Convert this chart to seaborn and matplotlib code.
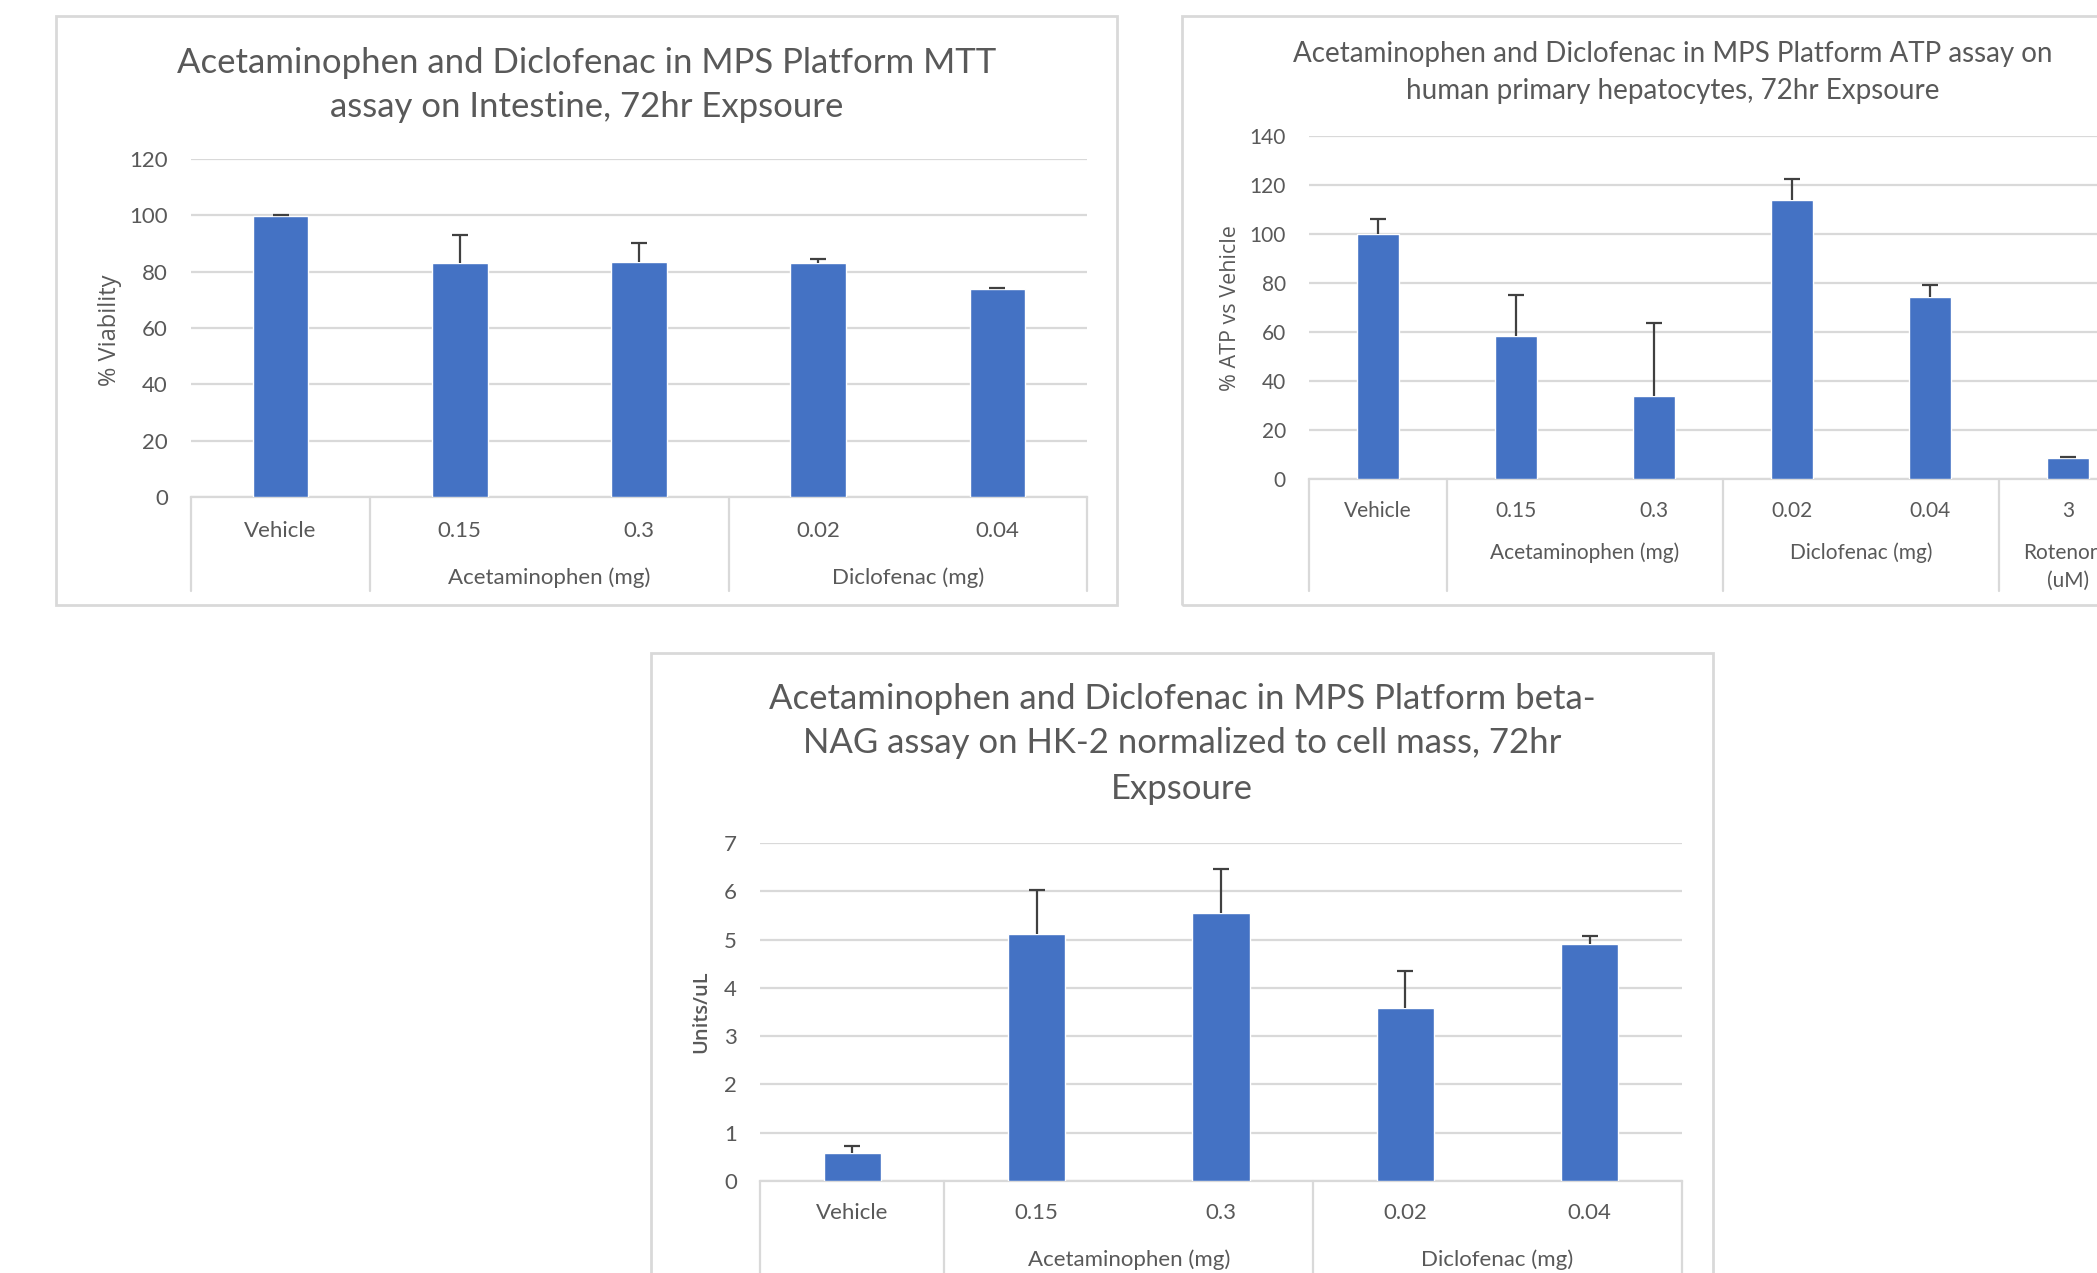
import numpy as np
import pandas as pd
import matplotlib
matplotlib.use("Agg")
import matplotlib.pyplot as plt
import matplotlib.transforms as mtransforms
from matplotlib.patches import Rectangle
import seaborn as sns

# ---------------- data ----------------
mtt_labels = ["Vehicle", "0.15", "0.3", "0.02", "0.04"]
mtt_values = [99.6, 82.9, 83.3, 82.9, 73.8]
mtt_err = [0.6, 10.1, 6.9, 1.5, 0.3]
mtt_groups = [("Acetaminophen (mg)", 1.5), ("Diclofenac (mg)", 3.5)]

atp_labels = ["Vehicle", "0.15", "0.3", "0.02", "0.04", "3"]
atp_values = [99.8, 58.2, 33.7, 113.8, 74.1, 8.4]
atp_err = [6.3, 17.1, 30.1, 8.8, 5.0, 0.4]
atp_groups = [("Acetaminophen (mg)", 1.5), ("Diclofenac (mg)", 3.5), ("Rotenone", 5.0)]
atp_group_second_line = [("(uM)", 5.0)]

nag_labels = ["Vehicle", "0.15", "0.3", "0.02", "0.04"]
nag_values = [0.57, 5.11, 5.56, 3.59, 4.90]
nag_err = [0.15, 0.91, 0.90, 0.76, 0.17]
nag_groups = [("Acetaminophen (mg)", 1.5), ("Diclofenac (mg)", 3.5)]

# ---------------- style ----------------
sns.set_theme(style="white")
NARROW = ["Liberation Sans Narrow", "Lato", "DejaVu Sans"]
plt.rcParams["font.family"] = NARROW
TXT = "#595959"
GRID = "#D9D9D9"
BAR = "#4472C4"

W, H = 2097, 1273
fig = plt.figure(figsize=(W / 100, H / 100), dpi=100)
fig.patch.set_facecolor("white")


def px_axes(x0, x1, ytop, ybot):
    return fig.add_axes([x0 / W, 1 - ybot / H, (x1 - x0) / W, (ybot - ytop) / H])


def box(x0, y0, x1, y1):
    fig.patches.append(Rectangle((x0 / W, 1 - y1 / H), (x1 - x0) / W, (y1 - y0) / H,
                                 transform=fig.transFigure, fill=False,
                                 edgecolor=GRID, lw=2.0, zorder=0))


def group_text(ax, items, offset_px, fs):
    trans = mtransforms.blended_transform_factory(ax.transData, ax.transAxes)
    for name, gx in items:
        ax.annotate(name, xy=(gx, 0), xycoords=trans, xytext=(0, -offset_px * 0.72),
                    textcoords="offset points", ha="center", va="center",
                    fontsize=fs, color=TXT)


def panel(ax, labels, values, err, ymax, ystep, groups, seps, sep_px, axh_px,
          tick_pad_px, group_px, tick_fs, ytick_fs):
    df = pd.DataFrame({"label": labels, "value": values})
    sns.barplot(data=df, x="label", y="value", order=labels, color=BAR,
                saturation=1, width=0.31, errorbar=None, ax=ax, zorder=3)
    x = np.arange(len(labels))
    v = np.asarray(values)
    e = np.asarray(err)
    ax.vlines(x, v, v + e, color="#404040", lw=1.6, zorder=4)
    ax.plot(x, v + e, ls="none", marker="_", ms=11, mew=1.6, color="#404040", zorder=4)
    ax.set_xlim(-0.5, len(labels) - 0.5)
    ax.set_ylim(0, ymax)
    ax.set_yticks(np.arange(0, ymax + ystep / 2, ystep))
    ax.yaxis.grid(True, color=GRID, lw=1.6, zorder=0)
    ax.set_axisbelow(True)
    for s in ["top", "right", "left"]:
        ax.spines[s].set_visible(False)
    ax.spines["bottom"].set_color(GRID)
    ax.spines["bottom"].set_linewidth(1.6)
    ax.set_xlabel("")
    ax.set_ylabel("")
    ax.tick_params(axis="y", length=0, pad=23 * 0.72, labelsize=ytick_fs, labelcolor=TXT)
    ax.tick_params(axis="x", length=0, pad=tick_pad_px * 0.72, labelsize=tick_fs, labelcolor=TXT)
    ax.patch.set_alpha(0)
    trans = mtransforms.blended_transform_factory(ax.transData, ax.transAxes)
    for sx in seps:
        ax.plot([sx, sx], [0, -sep_px / axh_px], transform=trans, color=GRID,
                lw=1.6, clip_on=False)
    group_text(ax, groups, group_px, tick_fs)


# ---------- panel 1 : MTT ----------
box(56, 16, 1117, 605)
ax1 = px_axes(191, 1087, 159, 497)
panel(ax1, mtt_labels, mtt_values, mtt_err, 120, 20, mtt_groups,
      [-0.5, 0.5, 2.5, 4.5], 94, 338, 24, 81, 16, 16)
fig.text(587 / W, 1 - 63 / H, "Acetaminophen and Diclofenac in MPS Platform MTT",
         ha="center", va="center", fontsize=25, color=TXT)
fig.text(587 / W, 1 - 107 / H, "assay on Intestine, 72hr Expsoure",
         ha="center", va="center", fontsize=25, color=TXT)
fig.text(110 / W, 1 - 330 / H, "% Viability", rotation=90, ha="center", va="center",
         fontsize=17, color=TXT, family=["Open Sans", "DejaVu Sans"])

# ---------- panel 2 : ATP ----------
box(1182, 16, 2120, 605)
ax2 = px_axes(1309, 2137, 136, 479)
panel(ax2, atp_labels, atp_values, atp_err, 140, 20, atp_groups,
      [-0.5, 0.5, 2.5, 4.5, 5.5], 112, 343, 22, 74, 15, 15)
group_text(ax2, atp_group_second_line, 102, 15)
fig.text(1673 / W, 1 - 54 / H, "Acetaminophen and Diclofenac in MPS Platform ATP assay on",
         ha="center", va="center", fontsize=20, color=TXT)
fig.text(1673 / W, 1 - 91 / H, "human primary hepatocytes, 72hr Expsoure",
         ha="center", va="center", fontsize=20, color=TXT)
fig.text(1230 / W, 1 - 308 / H, "% ATP vs Vehicle", rotation=90, ha="center", va="center",
         fontsize=15.5, color=TXT, family=["Open Sans", "DejaVu Sans"])

# ---------- panel 3 : beta-NAG ----------
box(651, 653, 1713, 1300)
ax3 = px_axes(760, 1682, 843, 1181)
panel(ax3, nag_labels, nag_values, nag_err, 7, 1, nag_groups,
      [-0.5, 0.5, 2.5, 4.5], 120, 338, 22, 79, 16, 16)
for txt, yy in [("Acetaminophen and Diclofenac in MPS Platform beta-", 699),
                ("NAG assay on HK-2 normalized to cell mass, 72hr", 743),
                ("Expsoure", 789)]:
    fig.text(1182 / W, 1 - yy / H, txt, ha="center", va="center", fontsize=25, color=TXT)
fig.text(701 / W, 1 - 1012 / H, "Units/uL", rotation=90, ha="center", va="center",
         fontsize=14.5, color=TXT, fontweight="semibold", family=["Open Sans", "DejaVu Sans"])

fig.savefig("out.png", dpi=100, facecolor="white")
